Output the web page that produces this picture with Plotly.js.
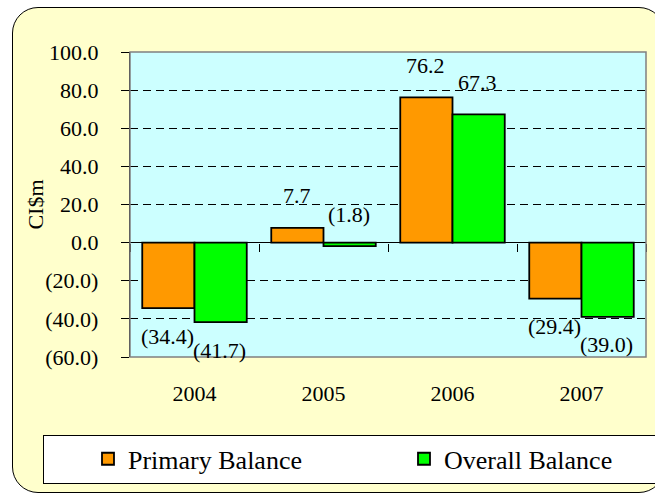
<!DOCTYPE html>
<html>
<head>
<meta charset="utf-8">
<script src="https://cdn.plot.ly/plotly-3.0.1.min.js"></script>
<style>
  html, body { margin: 0; padding: 0; background: #ffffff; }
  #wrap { position: relative; width: 655px; height: 494px; overflow: hidden; background: #ffffff; }
  #frame { position: absolute; left: 12px; top: 7px; width: 651px; height: 484px;
           border: 1.5px solid #000; border-radius: 26px; background: #FFFFCC; }
  #legbox { position: absolute; left: 43px; top: 435px; width: 650px; height: 47px;
            border: 1px solid #000; background: #ffffff; }
  #chart { position: absolute; left: 0; top: 0; width: 655px; height: 494px; }
</style>
</head>
<body>
<div id="wrap">
  <div id="frame"></div>
  <div id="legbox"></div>
  <div id="chart"></div>
</div>
<script>
// ---- data ----
const years = ["2004", "2005", "2006", "2007"];
const primaryBalance = [-34.4, 7.7, 76.2, -29.4];
const overallBalance = [-41.7, -1.8, 67.3, -39.0];
const seriesNames = ["Primary Balance", "Overall Balance"];
const yTickVals = [-60, -40, -20, 0, 20, 40, 60, 80, 100];
const yTickText = ["(60.0)", "(40.0)", "(20.0)", "0.0", "20.0", "40.0", "60.0", "80.0", "100.0"];
const yTitle = "CI$m";

const FONT = "Liberation Serif";
const fmt = v => v < 0 ? "(" + Math.abs(v).toFixed(1) + ")" : v.toFixed(1);

const traces = [
  { type: "bar", name: seriesNames[0], x: years, y: primaryBalance, legend: "legend",
    marker: { color: "#FF9900", line: { color: "#000", width: 1.8 } }, hoverinfo: "skip" },
  { type: "bar", name: seriesNames[1], x: years, y: overallBalance, legend: "legend2",
    marker: { color: "#00FF00", line: { color: "#000", width: 1.8 } }, hoverinfo: "skip" },
  { type: "scatter", x: years, y: years.map(() => null), xaxis: "x2", yaxis: "y",
    showlegend: false, hoverinfo: "skip", mode: "markers" }
];

// data labels
const annotations = [];
[primaryBalance, overallBalance].forEach((vals, si) => {
  vals.forEach((v, i) => {
    const above = v >= 0 || Math.abs(v) < 5;
    annotations.push({
      x: i, y: v, xref: "x", yref: "y", text: fmt(v), showarrow: false,
      xshift: si === 0 ? -27 : 25, yshift: above ? 32 : -28,
      yanchor: "middle", xanchor: "center",
      font: { family: FONT, size: 22, color: "#000" }
    });
  });
});
// y-axis title
annotations.push({
  x: -0.184, y: 0.5, xref: "paper", yref: "paper", text: yTitle, showarrow: false,
  textangle: -90, xanchor: "center", yanchor: "middle",
  font: { family: FONT, size: 22, color: "#000" }
});

const legendCommon = { orientation: "h", xanchor: "left", y: -0.334, yanchor: "middle",
  bgcolor: "rgba(0,0,0,0)", borderwidth: 0,
  font: { family: FONT, size: 26, color: "#000" } };

const layout = {
  width: 655, height: 494,
  margin: { l: 130, r: 9, t: 52, b: 137 },
  paper_bgcolor: "rgba(0,0,0,0)",
  plot_bgcolor: "#CCFFFF",
  barmode: "group", bargap: 0.19, bargroupgap: 0,
  font: { family: FONT, size: 22, color: "#000" },
  showlegend: true,
  legend: Object.assign({}, legendCommon, { x: -0.0814 }),
  legend2: Object.assign({}, legendCommon, { x: 0.531 }),
  xaxis: { type: "category", categoryarray: years, range: [-0.5, 3.5],
           showline: false, showgrid: false, zeroline: false, ticks: "",
           ticklabelstandoff: 21, tickfont: { family: FONT, size: 22 } },
  xaxis2: { type: "category", categoryarray: years, range: [-0.5, 3.5], overlaying: "x",
            anchor: "free", position: 0.375, side: "bottom", showline: false,
            ticks: "outside", tickson: "boundaries", ticklen: 8, tickcolor: "#000", tickwidth: 1,
            showticklabels: false, showgrid: false, zeroline: false },
  yaxis: { range: [-60, 100], tickvals: yTickVals, ticktext: yTickText,
           showline: true, linecolor: "#000", linewidth: 1.2,
           ticks: "outside", ticklen: 8, tickcolor: "#000",
           ticklabelstandoff: 18,
           showgrid: true, gridcolor: "#000", gridwidth: 1, griddash: "8px,5px",
           zeroline: true, zerolinecolor: "#000", zerolinewidth: 1,
           tickfont: { family: FONT, size: 22 } },
  shapes: [
    { type: "rect", xref: "paper", yref: "paper", x0: 0, x1: 1, y0: 0, y1: 1,
      line: { color: "#808080", width: 1.5 }, layer: "above" }
  ],
  annotations: annotations
};

Plotly.newPlot("chart", traces, layout, { staticPlot: true, displayModeBar: false });
</script>
</body>
</html>
